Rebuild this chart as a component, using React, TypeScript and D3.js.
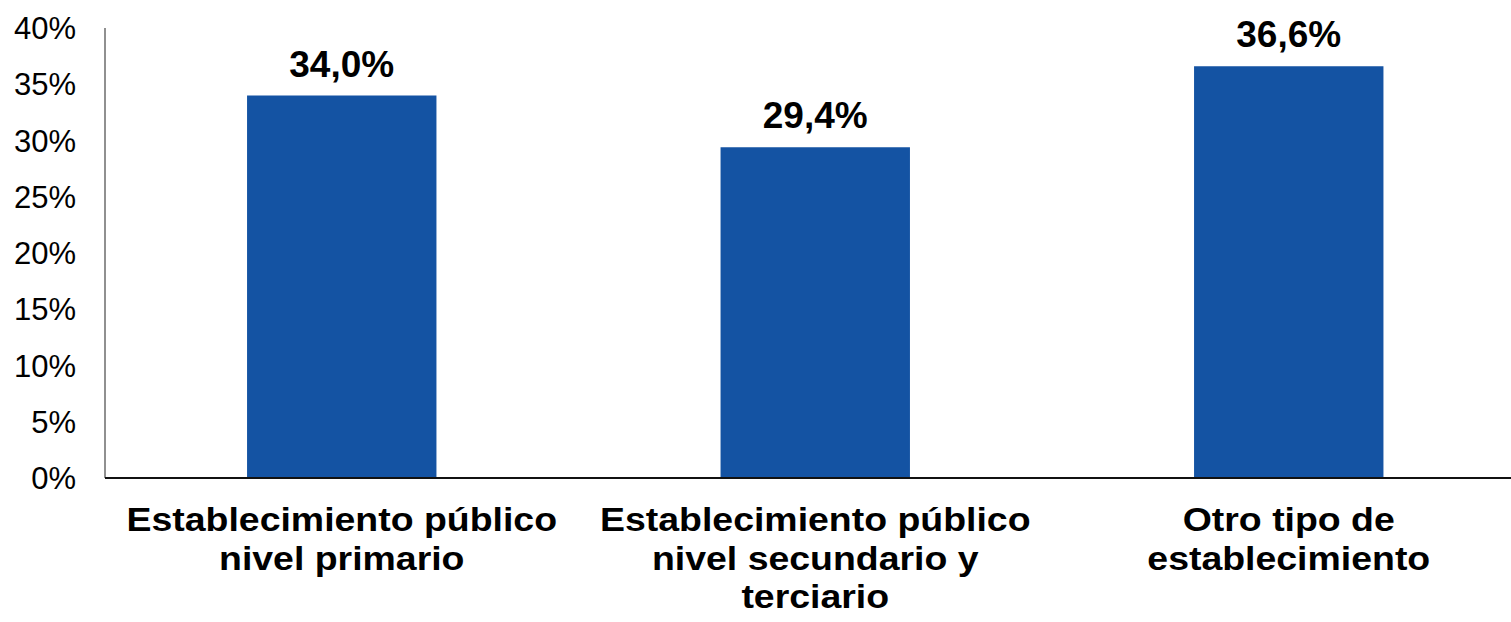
import { scaleBand, scaleLinear } from "d3";

const categories = [
  ["Establecimiento público", "nivel primario"],
  ["Establecimiento público", "nivel secundario y", "terciario"],
  ["Otro tipo de", "establecimiento"],
];
const values = [34.0, 29.4, 36.6];
const valueLabels = ["34,0%", "29,4%", "36,6%"];
const yTicks = [0, 5, 10, 15, 20, 25, 30, 35, 40];

const W = 1511;
const H = 622;

export default function App() {
  // plot spans past the right edge of the picture, like the original
  const x = scaleBand<number>()
    .domain(values.map((_, i) => i))
    .range([105, 1525.5])
    .paddingInner(0.6)
    .paddingOuter(0.3);

  const y = scaleLinear().domain([0, 40]).range([478, 28]);

  return (
    <svg
      width={W}
      height={H}
      style={{ position: "absolute", left: 0, top: 0, background: "#fff" }}
      fontFamily="'Liberation Sans', Arial, sans-serif"
    >
      {/* bars */}
      {values.map((v, i) => (
        <rect
          key={i}
          x={x(i)}
          y={y(v)}
          width={x.bandwidth()}
          height={y(0) - y(v)}
          fill="#1453A3"
        />
      ))}

      {/* value labels */}
      {values.map((v, i) => (
        <text
          key={i}
          x={(x(i) ?? 0) + x.bandwidth() / 2}
          y={y(v) - 19}
          textAnchor="middle"
          fontSize={37}
          fontWeight="bold"
          fill="#000"
        >
          {valueLabels[i]}
        </text>
      ))}

      {/* y axis */}
      <line x1={105} x2={105} y1={y(40)} y2={y(0)} stroke="#6b6b6b" strokeWidth={1.5} />
      {yTicks.map((t) => (
        <text
          key={t}
          x={76}
          y={y(t)}
          dy="0.36em"
          textAnchor="end"
          fontSize={31}
          fill="#000"
        >
          {t}%
        </text>
      ))}

      {/* baseline */}
      <line x1={105} x2={W} y1={y(0)} y2={y(0)} stroke="#111" strokeWidth={2} />

      {/* category labels, horizontally stretched like the original */}
      {categories.map((lines, i) => {
        const cx = (x(i) ?? 0) + x.bandwidth() / 2;
        return (
          <g key={i} transform={`translate(${cx},0) scale(1.152,1)`}>
            <text y={531.5} textAnchor="middle" fontSize={32.5} fontWeight="bold" fill="#000">
              {lines.map((l, j) => (
                <tspan key={j} x={0} dy={j === 0 ? 0 : 38.5}>
                  {l}
                </tspan>
              ))}
            </text>
          </g>
        );
      })}
    </svg>
  );
}
